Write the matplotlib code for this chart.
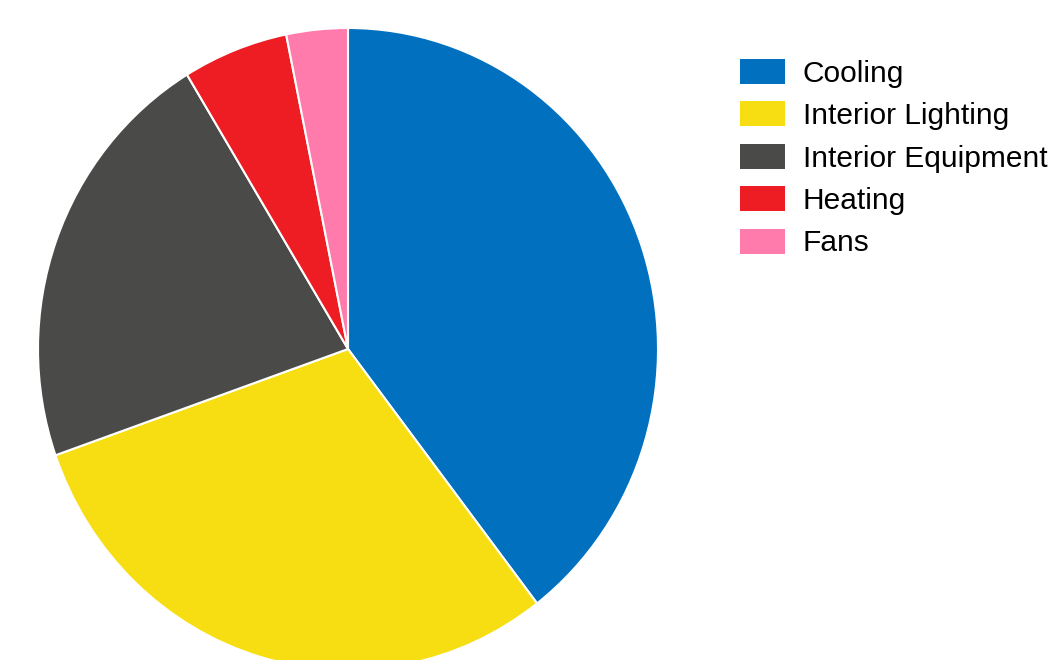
import matplotlib.pyplot as plt
import matplotlib.patches as mpatches

labels = ['Cooling', 'Interior Lighting', 'Interior Equipment', 'Heating', 'Fans']
shares = [39.6, 30.1, 21.7, 5.5, 3.2]
colors = ['#0070BF', '#F6DE12', '#4A4B48', '#EE1D24', '#FF7BAC']

plt.rcParams['font.family'] = ['Liberation Sans', 'DejaVu Sans']

fig = plt.figure(figsize=(10.49, 6.6), dpi=100)
# the pie in the reference is a little taller than wide
ax = fig.add_axes([38 / 1049, -10 / 660, 620 / 1049, 642 / 660])
ax.pie(shares, colors=colors, startangle=90, counterclock=False, radius=1,
       wedgeprops=dict(edgecolor='white', linewidth=1.5))
ax.set_xlim(-1, 1)
ax.set_ylim(-1, 1)
ax.set_aspect('auto')
ax.axis('off')

handles = [mpatches.Patch(facecolor=c, label=l) for c, l in zip(colors, labels)]
fig.legend(handles=handles, loc='upper left', bbox_to_anchor=(740 / 1049, 1 - 59 / 660),
           frameon=False, fontsize=21.5, handlelength=1.5, handleheight=0.9,
           handletextpad=0.6, labelspacing=0.46, borderpad=0, borderaxespad=0)

fig.savefig('out.png', dpi=100)
